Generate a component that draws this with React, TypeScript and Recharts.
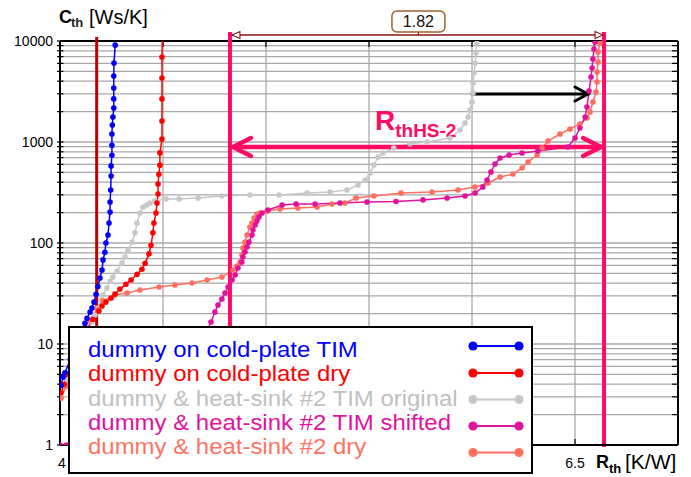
import React from 'react';
import {
  ComposedChart,
  Line,
  XAxis,
  YAxis,
  CartesianGrid,
  ReferenceLine,
  ReferenceDot,
  Legend,
} from 'recharts';

// ---------------- data ----------------
const blueSeries: [number, number][] = [
  [4.005, 3.9], [4.015, 4.7], [4.024, 5.2], [4.05, 7.0], [4.075, 9.2], [4.1, 12.5], [4.121, 16],
  [4.131, 18], [4.146, 20.7], [4.155, 22.7], [4.165, 26], [4.175, 31], [4.184, 37], [4.194, 45],
  [4.204, 54], [4.209, 68], [4.218, 81], [4.223, 100], [4.233, 120], [4.238, 158], [4.243, 203],
  [4.243, 255], [4.246, 335], [4.248, 460], [4.248, 580], [4.252, 740], [4.252, 930], [4.252, 1200],
  [4.254, 1470], [4.257, 1770], [4.261, 2170], [4.261, 2670], [4.261, 3430], [4.261, 4500],
  [4.262, 6050], [4.268, 9100],
];

const redSeries: [number, number][] = [
  [4.005, 3.3], [4.02, 4.0], [4.035, 5.0], [4.07, 8], [4.12, 13], [4.16, 17.5], [4.189, 21.2],
  [4.204, 23.8], [4.223, 26], [4.248, 28.5], [4.267, 31.3], [4.291, 35], [4.32, 39], [4.345, 43],
  [4.374, 49], [4.398, 55], [4.413, 63], [4.432, 78], [4.442, 95], [4.451, 126], [4.456, 158],
  [4.466, 198], [4.471, 249], [4.476, 306], [4.476, 384], [4.48, 480], [4.485, 590], [4.485, 780],
  [4.495, 1070], [4.495, 1610], [4.495, 2670], [4.495, 4300], [4.495, 6950], [4.497, 11000],
];

const grayOriginalSeries: [number, number][] = [
  [4.005, 3.0], [4.03, 4.5], [4.07, 8], [4.11, 12.5], [4.155, 16.5], [4.17, 19.4], [4.184, 22.7],
  [4.199, 27.3], [4.209, 30.6], [4.228, 35.8], [4.243, 42], [4.257, 46], [4.277, 52.8], [4.301, 63.4],
  [4.316, 72.7], [4.33, 85], [4.35, 102], [4.364, 126], [4.374, 158], [4.388, 198], [4.403, 227],
  [4.422, 238], [4.437, 249], [4.461, 261], [4.515, 273], [4.578, 273], [4.67, 279], [4.786, 292],
  [4.922, 299], [5.063, 299], [5.199, 313], [5.311, 320], [5.393, 335], [5.447, 375], [5.481, 421],
  [5.505, 493], [5.524, 592], [5.544, 710], [5.568, 778], [5.62, 873], [5.699, 960], [5.782, 1000],
  [5.893, 1096], [5.942, 1315], [5.966, 1542], [5.981, 1769], [5.99, 2074], [6.0, 2490],
  [6.005, 3055], [6.005, 3840], [6.01, 4820], [6.015, 6050], [6.019, 7600], [6.024, 9550],
];

const magentaShiftedSeries: [number, number][] = [
  [4.0, 1.0], [4.03, 1.0], [4.4, 1.6], [4.6, 4], [4.68, 9], [4.71, 13], [4.733, 16.5], [4.752, 20.7],
  [4.767, 24.3], [4.786, 27.9], [4.801, 32], [4.816, 36.7], [4.835, 43], [4.85, 48.2], [4.864, 56.6],
  [4.883, 64.9], [4.888, 72.7], [4.898, 81.5], [4.908, 91.3], [4.917, 102], [4.932, 120],
  [4.937, 134.5], [4.947, 151], [4.956, 165], [4.966, 181], [4.981, 198], [5.01, 212], [5.078, 238],
  [5.146, 243], [5.238, 243], [5.359, 249], [5.49, 255], [5.631, 258], [5.762, 267], [5.879, 279],
  [5.966, 292], [6.015, 313], [6.053, 358], [6.073, 421], [6.092, 505], [6.112, 606], [6.136, 695],
  [6.18, 743], [6.243, 778], [6.32, 815], [6.466, 892], [6.5, 1096], [6.524, 1377], [6.549, 1769],
  [6.558, 2222], [6.568, 3198], [6.578, 4400], [6.583, 5400], [6.587, 6630], [6.592, 8340],
  [6.597, 9780], [6.6, 11000],
];

const salmonDrySeries: [number, number][] = [
  [4.005, 2.9], [4.03, 3.8], [4.06, 7], [4.1, 12], [4.14, 17], [4.18, 21.7], [4.209, 26.7],
  [4.267, 30.6], [4.325, 32], [4.388, 34.3], [4.481, 36.7], [4.558, 38.4], [4.641, 40.2],
  [4.714, 43], [4.786, 46], [4.84, 54], [4.859, 59.2], [4.874, 64.9], [4.883, 76.1], [4.888, 89.2],
  [4.898, 102], [4.908, 120], [4.922, 144], [4.932, 158], [4.942, 177], [4.956, 194], [4.971, 198],
  [5.005, 207], [5.068, 217], [5.155, 222], [5.248, 227], [5.32, 243], [5.383, 249], [5.437, 279],
  [5.524, 292], [5.655, 313], [5.806, 320], [5.932, 335], [6.015, 358], [6.078, 393], [6.136, 450],
  [6.199, 482], [6.243, 553], [6.272, 634], [6.316, 743], [6.34, 873], [6.369, 1023], [6.427, 1200],
  [6.476, 1345], [6.524, 1508], [6.558, 1729], [6.573, 1983], [6.587, 2490], [6.602, 3127],
  [6.607, 3928], [6.607, 4933], [6.612, 6195], [6.612, 7780], [6.621, 9550],
];

const seriesNames = [
  'dummy on cold-plate TIM',
  'dummy on cold-plate dry',
  'dummy & heat-sink #2 TIM original',
  'dummy & heat-sink #2 TIM shifted',
  'dummy & heat-sink #2 dry',
];
const seriesColors = ['#0000ff', '#ff0000', '#c8c8c8', '#e2129e', '#ff6f5f'];
const legendTextColors = ['#0000ff', '#ff0000', '#c0c0c0', '#e2129e', '#ff7264'];

const X_TICKS = [4, 4.5, 5, 5.5, 6, 6.5, 7];
const X_TICK_LABELS: Record<string, string> = { '4': '4', '6.5': '6.5' };
const Y_TICKS = [
  1, 2, 3, 4, 5, 6, 7, 8, 9,
  10, 20, 30, 40, 50, 60, 70, 80, 90,
  100, 200, 300, 400, 500, 600, 700, 800, 900,
  1000, 2000, 3000, 4000, 5000, 6000, 7000, 8000, 9000,
  10000,
];
const Y_TICK_LABELS: Record<string, string> = {
  '1': '1', '10': '10', '100': '100', '1000': '1000', '10000': '10000',
};

// annotation values
const DRY_LINE_X = 4.178;
const RTH_LEFT_X = 4.825;
const RTH_RIGHT_X = 6.641;
const RTH_DIFF_LABEL = '1.82';
const DIM_LINE_Y = 11460;
const PINK_TOP_Y = 12300;
const PINK_BOTTOM_Y = 0.955;
const DRY_TOP_Y = 10965;
const HS_ARROW_Y = 892;
const SHIFT_ARROW_Y = 2987;
const SHIFT_ARROW_FROM_X = 6.0;
const SHIFT_ARROW_TO_X = 6.563;
const RTH_LABEL_X = 5.529;
const RTH_LABEL_Y = 1315;
const DIFF_LABEL_X = 5.74;

const toPts = (arr: [number, number][]) => arr.map(([x, y]) => ({ x, y }));
const SERIES = [blueSeries, redSeries, grayOriginalSeries, magentaShiftedSeries, salmonDrySeries].map(
  (d, i) => ({ name: seriesNames[i], color: seriesColors[i], data: toPts(d) })
);
// drawing order (bottom -> top)
const DRAW_ORDER = [2, 4, 3, 1, 0];

const FONT = '"Liberation Sans", Arial, sans-serif';
const PINK = '#ff0a64';

// ---------------- ticks ----------------
const YTick = (props: any) => {
  const { x, y, payload } = props;
  const label = Y_TICK_LABELS[String(payload.value)];
  if (!label) return <g />;
  return (
    <text x={x} y={y} dy={5} textAnchor="end" fontSize={14} fontFamily={FONT} fill="#000">
      {label}
    </text>
  );
};

const XTick = (props: any) => {
  const { x, y, payload } = props;
  const label = X_TICK_LABELS[String(payload.value)];
  if (!label) return <g />;
  return (
    <text x={x + (payload.value === 4 ? 2 : 0)} y={y + 23} textAnchor="middle" fontSize={14} fontFamily={FONT} fill="#000">
      {label}
    </text>
  );
};

// ---------------- annotation shapes ----------------
const DimLineShape = (p: any) => {
  const { x1, y1, x2 } = p;
  const y = y1;
  const c = '#8b1010';
  return (
    <g>
      <line x1={x1 + 2} y1={y} x2={x2 - 1} y2={y} stroke={c} strokeWidth={1.3} />
      <polygon points={`${x1 + 2},${y} ${x1 + 10},${y - 3.5} ${x1 + 10},${y + 3.5}`} fill="#fff" stroke={c} strokeWidth={1.1} />
      <polygon points={`${x2 - 1},${y} ${x2 - 9},${y - 3.5} ${x2 - 9},${y + 3.5}`} fill="#fff" stroke={c} strokeWidth={1.1} />
    </g>
  );
};

const DoubleArrowShape = (p: any) => {
  const { x1, y1, x2 } = p;
  const y = y1;
  const a = x1 + 3;
  const b = x2 - 3;
  return (
    <g stroke={PINK} strokeWidth={4.5} strokeLinecap="round" fill="none">
      <line x1={a} y1={y} x2={b} y2={y} />
      <polyline points={`${a + 18},${y - 9} ${a},${y} ${a + 18},${y + 9}`} strokeLinejoin="miter" />
      <polyline points={`${b - 18},${y - 9} ${b},${y} ${b - 18},${y + 9}`} strokeLinejoin="miter" />
    </g>
  );
};

const ArrowShape = (p: any) => {
  const { x1, y1, x2 } = p;
  const y = y1;
  return (
    <g stroke="#000" strokeWidth={3} fill="none" strokeLinecap="round">
      <line x1={x1} y1={y} x2={x2} y2={y} />
      <polyline points={`${x2 - 13},${y - 7} ${x2},${y} ${x2 - 13},${y + 7}`} strokeLinejoin="miter" />
    </g>
  );
};

const DiffLabelShape = (p: any) => {
  const { cx, cy } = p;
  return (
    <g>
      <line x1={cx} y1={cy} x2={cx} y2={cy - 4} stroke="#8b1010" strokeWidth={1.2} />
      <rect x={cx - 26.5} y={cy - 24} width={53} height={21} rx={5} ry={5} fill="#fff" stroke="#a0622d" strokeWidth={1.5} />
      <text x={cx} y={cy - 8} textAnchor="middle" fontSize={16} fontFamily={FONT} fill="#111">
        {RTH_DIFF_LABEL}
      </text>
    </g>
  );
};

const RthLabelShape = (p: any) => {
  const { cx, cy } = p;
  return (
    <text x={cx} y={cy} fill={PINK} fontFamily={FONT} fontWeight="bold">
      <tspan fontSize={28}>R</tspan>
      <tspan fontSize={19} dy={7}>thHS-2</tspan>
    </text>
  );
};

// ---------------- legend ----------------
const LEG_TEXT_Y = [31, 55.25, 79.5, 103.75, 128];
const LEG_SYM_Y = [20, 47, 73.5, 100, 126.5];
const LEG_FONT = 21.5;
const LEG_STRETCH = 1.115;

const LegendBox = () => (
  <svg width={465} height={148} style={{ display: 'block' }}>
    <rect x={1} y={1} width={463} height={146} fill="#fff" stroke="#000" strokeWidth={2} />
    {SERIES.map((s, i) => (
      <g key={s.name}>
        <g transform={`translate(20 ${LEG_TEXT_Y[i]}) scale(${LEG_STRETCH} 1)`}>
          <text x={0} y={0} fill={legendTextColors[i]} fontSize={LEG_FONT} fontFamily={FONT}>
            {s.name}
          </text>
        </g>
        <line x1={405} y1={LEG_SYM_Y[i]} x2={451} y2={LEG_SYM_Y[i]} stroke={s.color} strokeWidth={2.2} />
        <circle cx={405} cy={LEG_SYM_Y[i]} r={4.6} fill={s.color} />
        <circle cx={451} cy={LEG_SYM_Y[i]} r={4.6} fill={s.color} />
      </g>
    ))}
  </svg>
);

export default function App() {
  const tickSegs: React.ReactNode[] = [];
  Y_TICKS.forEach((v) => {
    tickSegs.push(
      <ReferenceLine key={`l${v}`} segment={[{ x: 4, y: v }, { x: 4.017, y: v }]} stroke="#000" strokeWidth={1.2} />
    );
    tickSegs.push(
      <ReferenceLine key={`r${v}`} segment={[{ x: 6.971, y: v }, { x: 7, y: v }]} stroke="#000" strokeWidth={1.2} />
    );
  });
  X_TICKS.forEach((v) => {
    tickSegs.push(
      <ReferenceLine key={`t${v}`} segment={[{ x: v, y: 8720 }, { x: v, y: 10000 }]} stroke="#000" strokeWidth={1.2} />
    );
    tickSegs.push(
      <ReferenceLine key={`b${v}`} segment={[{ x: v, y: 1 }, { x: v, y: 1.147 }]} stroke="#000" strokeWidth={1.2} />
    );
  });

  return (
    <div style={{ position: 'absolute', left: 0, top: 0, width: 691, height: 477, background: '#fff' }}>
      <ComposedChart width={691} height={477} margin={{ top: 41, right: 13, bottom: 0, left: 0 }}>
        <CartesianGrid stroke="#a9a9a9" strokeWidth={1.3} />
        <XAxis
          type="number"
          dataKey="x"
          domain={[4, 7]}
          ticks={X_TICKS}
          interval={0}
          allowDataOverflow
          height={32}
          tickSize={0}
          tickMargin={0}
          tickLine={false}
          axisLine={{ stroke: '#000', strokeWidth: 2 }}
          tick={<XTick />}
        />
        <YAxis
          type="number"
          dataKey="y"
          scale="log"
          domain={[1, 10000]}
          ticks={Y_TICKS}
          interval={0}
          allowDataOverflow
          width={60}
          tickSize={3}
          tickMargin={4}
          tickLine={{ stroke: '#000', strokeWidth: 1.2 }}
          axisLine={{ stroke: '#000', strokeWidth: 2 }}
          tick={<YTick />}
        />
        {tickSegs}
        <ReferenceLine y={10000} stroke="#000" strokeWidth={2} />
        <ReferenceLine x={7} stroke="#000" strokeWidth={2} />
        {DRAW_ORDER.map((i) => {
          const s = SERIES[i];
          return (
            <Line
              key={s.name}
              name={s.name}
              data={s.data}
              dataKey="y"
              type="linear"
              stroke={s.color}
              strokeWidth={1.5}
              dot={{ r: 2.8, fill: s.color, stroke: s.color, strokeWidth: 0 }}
              activeDot={false}
              isAnimationActive={false}
              legendType="none"
            />
          );
        })}
        <ReferenceLine
          segment={[{ x: DRY_LINE_X, y: 1 }, { x: DRY_LINE_X, y: DRY_TOP_Y }]}
          ifOverflow="visible"
          stroke="#c00000"
          strokeWidth={3}
        />
        <ReferenceLine
          segment={[{ x: RTH_LEFT_X, y: PINK_BOTTOM_Y }, { x: RTH_LEFT_X, y: PINK_TOP_Y }]}
          ifOverflow="visible"
          stroke={PINK}
          strokeWidth={4}
        />
        <ReferenceLine
          segment={[{ x: RTH_RIGHT_X, y: PINK_BOTTOM_Y }, { x: RTH_RIGHT_X, y: PINK_TOP_Y }]}
          ifOverflow="visible"
          stroke={PINK}
          strokeWidth={4}
        />
        <ReferenceLine
          segment={[{ x: RTH_LEFT_X, y: DIM_LINE_Y }, { x: RTH_RIGHT_X, y: DIM_LINE_Y }]}
          ifOverflow="visible"
          shape={DimLineShape}
        />
        <ReferenceLine
          segment={[{ x: RTH_LEFT_X, y: HS_ARROW_Y }, { x: RTH_RIGHT_X, y: HS_ARROW_Y }]}
          ifOverflow="visible"
          shape={DoubleArrowShape}
        />
        <ReferenceLine
          segment={[{ x: SHIFT_ARROW_FROM_X, y: SHIFT_ARROW_Y }, { x: SHIFT_ARROW_TO_X, y: SHIFT_ARROW_Y }]}
          ifOverflow="visible"
          shape={ArrowShape}
        />
        <ReferenceDot x={DIFF_LABEL_X} y={DIM_LINE_Y} ifOverflow="visible" shape={DiffLabelShape} />
        <ReferenceDot x={RTH_LABEL_X} y={RTH_LABEL_Y} ifOverflow="visible" shape={RthLabelShape} />
        <Legend
          layout="horizontal"
          verticalAlign="middle"
          align="center"
          content={() => <LegendBox />}
          wrapperStyle={{ left: 68, top: 326, width: 465, height: 148, margin: 0, padding: 0 }}
        />
      </ComposedChart>
      <svg
        width={691}
        height={477}
        style={{ position: 'absolute', left: 0, top: 0, pointerEvents: 'none' }}
      >
        <text x={59} y={23} fontSize={18} fontWeight="bold" fontFamily={FONT} fill="#000">C</text>
        <text x={71} y={27} fontSize={13} fontWeight="bold" fontFamily={FONT} fill="#222">th</text>
        <text x={89} y={24} fontSize={20} fontFamily={FONT} fill="#000">[Ws/K]</text>
        <text x={596} y={468} fontSize={18} fontWeight="bold" fontFamily={FONT} fill="#000">R</text>
        <text x={609} y={473} fontSize={13} fontWeight="bold" fontFamily={FONT} fill="#000">th</text>
        <text x={625} y={469} fontSize={21} fontFamily={FONT} fill="#000">[K/W]</text>
      </svg>
    </div>
  );
}
